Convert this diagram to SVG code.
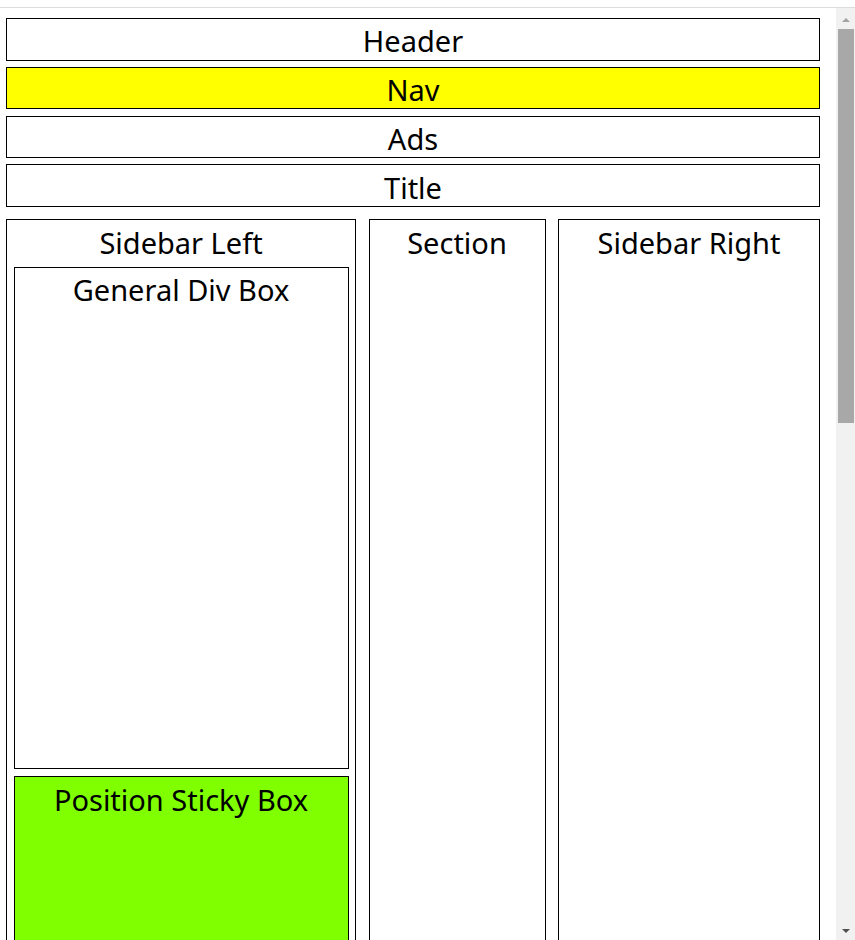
<svg xmlns="http://www.w3.org/2000/svg" width="855" height="940" viewBox="0 0 855 940">
<style>
.box{fill:#fff;stroke:#000;stroke-width:1}
.t{font-family:"Noto Sans","Open Sans",sans-serif;font-size:29px;fill:#000;text-anchor:middle}
</style>
<rect width="855" height="940" fill="#fff"/>
<line x1="0" y1="7.5" x2="855" y2="7.5" stroke="#dcdcdc" stroke-width="1"/>
<g id="scrollbar">
<rect x="836" y="8" width="19" height="932" fill="#f1f1f1"/>
<rect x="838" y="29" width="16" height="394" fill="#a8a8a8"/>
<polygon points="842,22 846,18 850,22" fill="#a3a3a3"/>
<polygon points="842,929 850,929 846,933" fill="#505050"/>
</g>
<g id="header"><rect class="box" x="6.5" y="18.5" width="813" height="42"/><text class="t" x="413" y="52">Header</text></g>
<g id="nav"><rect class="box" x="6.5" y="67.5" width="813" height="41" style="fill:#ffff00"/><text class="t" x="413" y="101">Nav</text></g>
<g id="ads"><rect class="box" x="6.5" y="116.5" width="813" height="41"/><text class="t" x="413" y="150">Ads</text></g>
<g id="title"><rect class="box" x="6.5" y="164.5" width="813" height="42"/><text class="t" x="413" y="199">Title</text></g>
<g id="sidebar-left"><rect class="box" x="6.5" y="219.5" width="349" height="730"/><text class="t" x="181" y="254">Sidebar Left</text></g>
<g id="general-div-box"><rect class="box" x="14.5" y="267.5" width="334" height="501"/><text class="t" x="181" y="301">General Div Box</text></g>
<g id="position-sticky-box"><rect class="box" x="14.5" y="776.5" width="334" height="180" style="fill:#7fff00"/><text class="t" x="181" y="811">Position Sticky Box</text></g>
<g id="section"><rect class="box" x="369.5" y="219.5" width="176" height="730"/><text class="t" x="457" y="254">Section</text></g>
<g id="sidebar-right"><rect class="box" x="558.5" y="219.5" width="261" height="730"/><text class="t" x="689" y="254">Sidebar Right</text></g>
<g id="connectors"/>
</svg>
